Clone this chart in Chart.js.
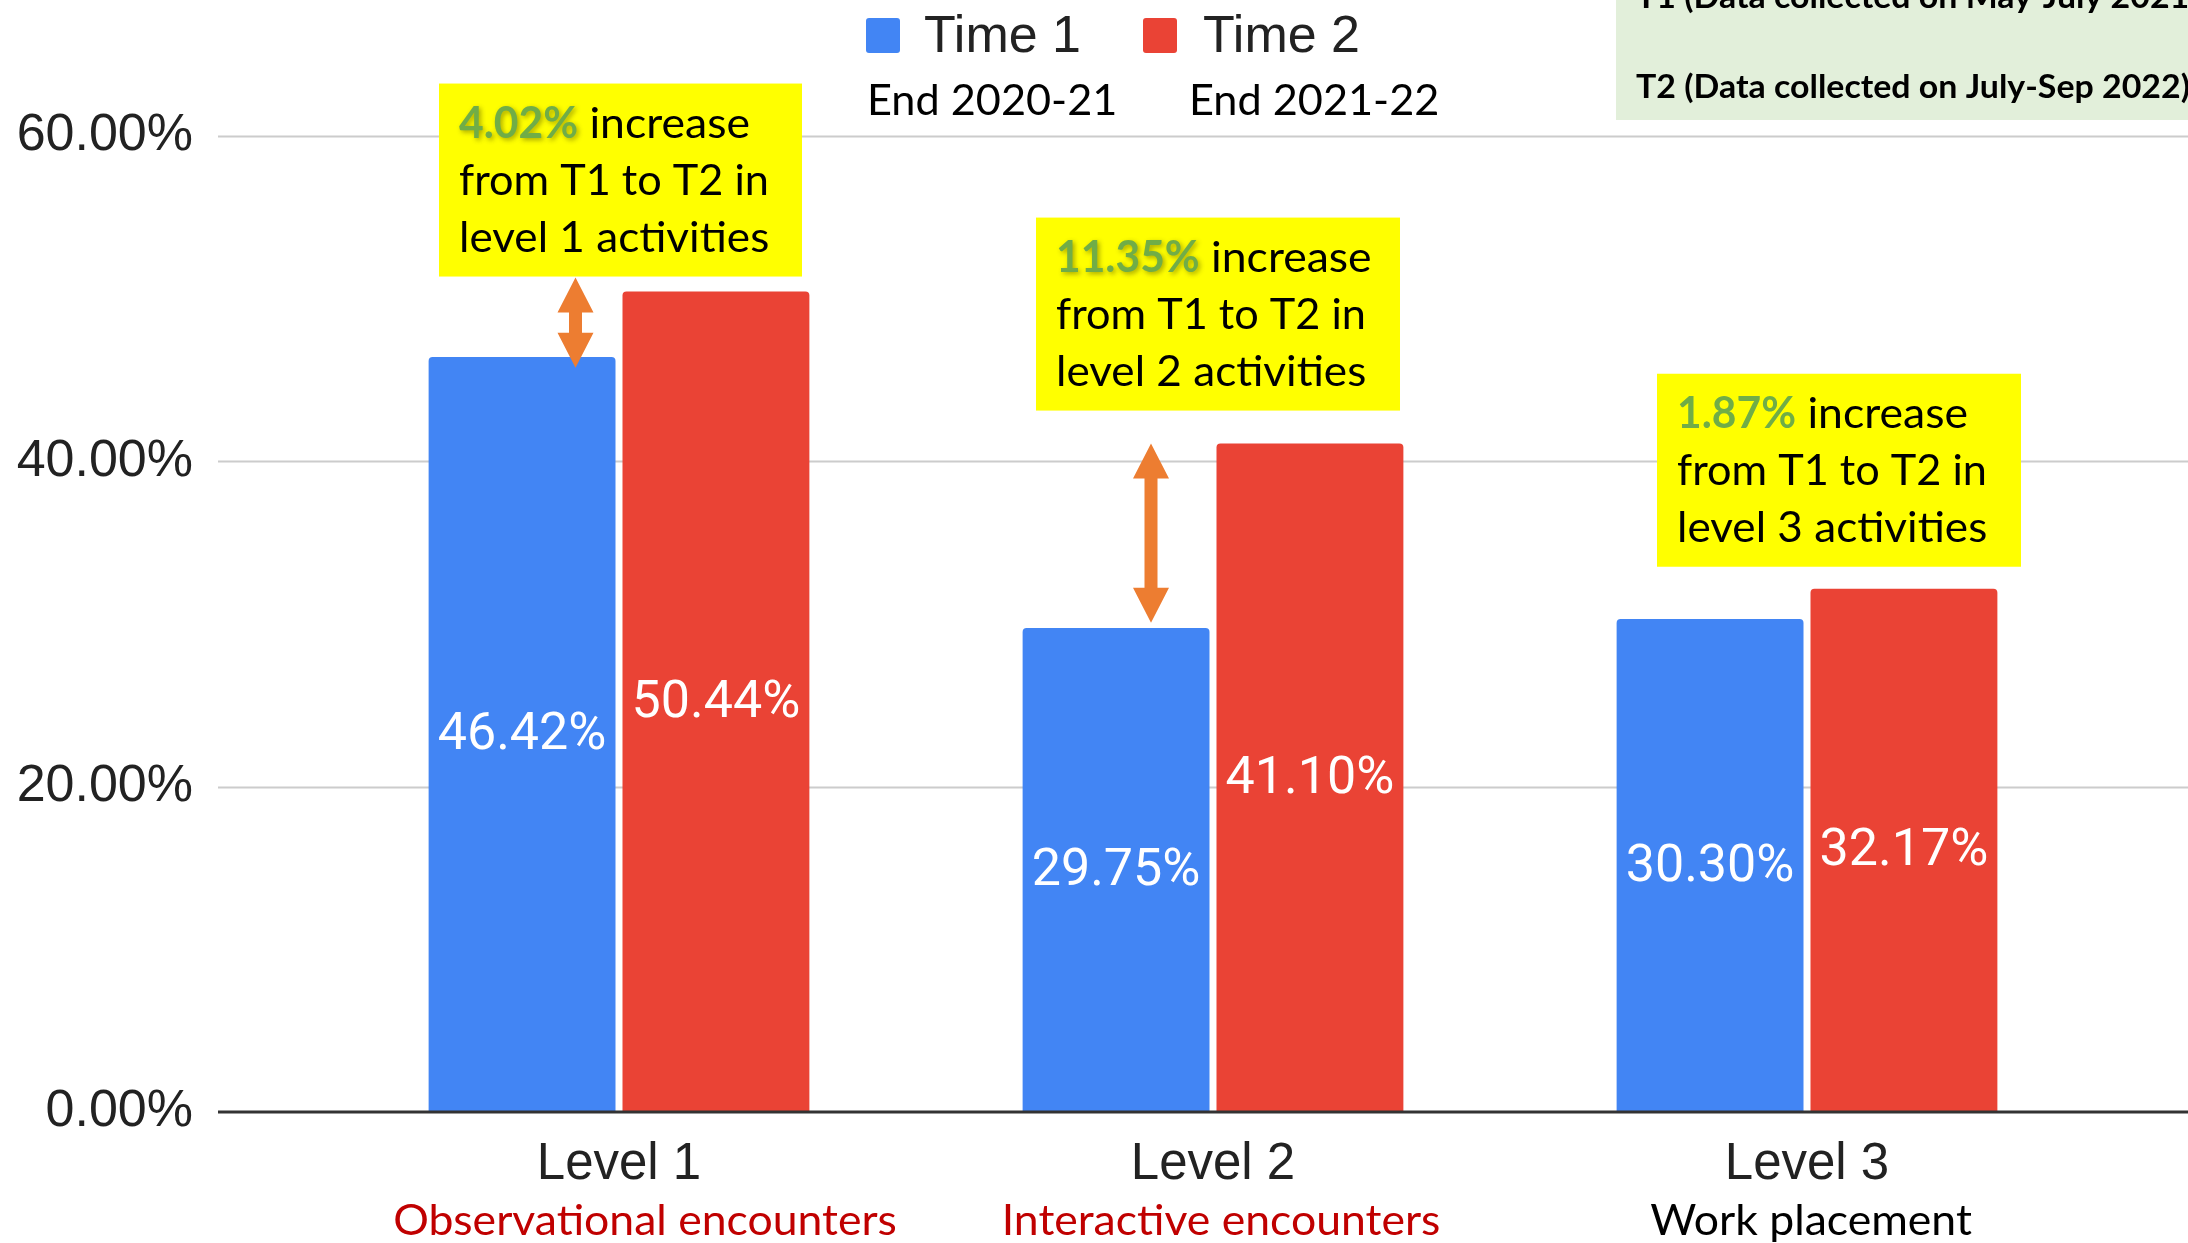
<!DOCTYPE html>
<html>
<head>
<meta charset="utf-8">
<title>Work-related learning activities: Time 1 vs Time 2</title>
<script src="https://cdn.jsdelivr.net/npm/chart.js@4.4.1/dist/chart.umd.min.js"></script>
<style>
  html, body { margin: 0; padding: 0; background: #ffffff; overflow: hidden; }
  canvas { display: block; }
</style>
</head>
<body>
<canvas id="chart" width="2188" height="1243"></canvas>
<script>
// ---- data ----
const levels = ['Level 1', 'Level 2', 'Level 3'];
const levelNames = ['Observational encounters', 'Interactive encounters', 'Work placement'];
const seriesNames = ['Time 1', 'Time 2'];
const seriesPeriods = ['End 2020-21', 'End 2021-22'];
const time1 = [46.42, 29.75, 30.30];
const time2 = [50.44, 41.10, 32.17];
const yTicks = [0, 20, 40, 60];
const collectionNotes = [
  'T1 (Data collected on May-July 2021)',
  'T2 (Data collected on July-Sep 2022)'
];

// ---- styling ----
const BLUE = '#4285F4';
const RED = '#EA4335';
const ORANGE = '#ED7D31';
const GREEN_TXT = '#70AD47';
const YELLOW = '#FFFF00';
const NOTE_BG = '#E2EFDA';
const ARIAL = '"Liberation Sans", Arial, sans-serif';
const ROBOTO = 'Roboto, "Liberation Sans", sans-serif';
const HUMAN = 'Lato, "Open Sans", sans-serif';

// plot frame (px)
const PLOT_TOP = 136;
const X_AXIS_HEIGHT = 131;
const Y_AXIS_WIDTH = 322;

// Callout boxes: horizontal offset from the category centre (px), bottom edge as a y value
const callouts = [
  { cat: 0, dx: -180, width: 363, height: 193, bottom: 51.36, shadow: true },
  { cat: 1, dx: -177, width: 364, height: 193, bottom: 43.12, shadow: true },
  { cat: 2, dx: -150, width: 364, height: 193, bottom: 33.52, shadow: false }
];
// Double-headed arrows between the two bars (y values of the two tips)
const arrows = [
  { cat: 0, dx: -43.5, from: 51.3, to: 45.76 },
  { cat: 1, dx: -62, from: 41.09, to: 30.08 }
];
const levelNameColors = ['#C00000', '#C00000', '#000000'];
const levelNameDx = [26, 8, 4];

// Condensed humanist text (narrow office-style face emulated with a horizontal scale)
let sxReg = 1, sxBold = 1;
function calibrate(ctx) {
  ctx.save();
  ctx.font = '43px ' + HUMAN;
  sxReg = 310 / ctx.measureText('from T1 to T2 in').width;
  ctx.font = 'bold 43px ' + HUMAN;
  sxBold = 119 / ctx.measureText('4.02%').width;
  ctx.restore();
}
function scaledText(ctx, text, x, y, font, sx, align) {
  ctx.save();
  ctx.font = font;
  const w = ctx.measureText(text).width * sx;
  let x0 = x;
  if (align === 'center') x0 = x - w / 2;
  else if (align === 'right') x0 = x - w;
  ctx.translate(x0, y);
  ctx.scale(sx, 1);
  ctx.textAlign = 'left';
  ctx.textBaseline = 'alphabetic';
  ctx.fillText(text, 0, 0);
  ctx.restore();
  return w;
}

function doubleArrow(ctx, x, yTop, yBot) {
  const headLen = 35, headHalf = 18, shaftHalf = 6.5;
  ctx.beginPath();
  ctx.moveTo(x, yTop);
  ctx.lineTo(x + headHalf, yTop + headLen);
  ctx.lineTo(x + shaftHalf, yTop + headLen);
  ctx.lineTo(x + shaftHalf, yBot - headLen);
  ctx.lineTo(x + headHalf, yBot - headLen);
  ctx.lineTo(x, yBot);
  ctx.lineTo(x - headHalf, yBot - headLen);
  ctx.lineTo(x - shaftHalf, yBot - headLen);
  ctx.lineTo(x - shaftHalf, yTop + headLen);
  ctx.lineTo(x - headHalf, yTop + headLen);
  ctx.closePath();
  ctx.fillStyle = ORANGE;
  ctx.fill();
}

// Horizontal grid lines spanning the full width (behind the bars)
const gridPlugin = {
  id: 'wideGrid',
  beforeDatasetsDraw(chart) {
    const { ctx, scales: { y } } = chart;
    ctx.save();
    ctx.strokeStyle = '#cccccc';
    ctx.lineWidth = 2;
    yTicks.forEach(v => {
      if (v === 0) return;
      const py = Math.round(y.getPixelForValue(v)) + 0.5;
      ctx.beginPath();
      ctx.moveTo(218, py);
      ctx.lineTo(chart.width, py);
      ctx.stroke();
    });
    ctx.restore();
  }
};

// Baseline, value labels, callouts, arrows, legend and notes
const overlayPlugin = {
  id: 'overlay',
  afterDatasetsDraw(chart) {
    const { ctx, scales: { x, y } } = chart;
    calibrate(ctx);
    ctx.save();

    // zero line
    ctx.strokeStyle = '#333333';
    ctx.lineWidth = 3;
    const y0 = y.getPixelForValue(0);
    ctx.beginPath();
    ctx.moveTo(218, y0);
    ctx.lineTo(chart.width, y0);
    ctx.stroke();

    // value labels centred in each bar
    ctx.fillStyle = '#ffffff';
    ctx.font = '52px ' + ROBOTO;
    ctx.textAlign = 'center';
    ctx.textBaseline = 'middle';
    chart.data.datasets.forEach((ds, di) => {
      chart.getDatasetMeta(di).data.forEach((bar, i) => {
        const v = ds.data[i];
        ctx.fillText(v.toFixed(2) + '%', bar.x, (bar.y + bar.base) / 2 + 2);
      });
    });

    // callout boxes
    callouts.forEach(c => {
      const cx = x.getPixelForValue(c.cat);
      const left = cx + c.dx;
      const bottom = y.getPixelForValue(c.bottom);
      const top = bottom - c.height;
      ctx.fillStyle = YELLOW;
      ctx.fillRect(left, top, c.width, c.height);

      const gain = (time2[c.cat] - time1[c.cat]).toFixed(2) + '%';
      const tx = left + 20;
      ctx.save();
      if (c.shadow) {
        ctx.shadowColor = 'rgba(60,60,0,0.45)';
        ctx.shadowBlur = 5;
        ctx.shadowOffsetX = 2;
        ctx.shadowOffsetY = 2;
      }
      ctx.fillStyle = GREEN_TXT;
      const gw = scaledText(ctx, gain, tx, top + 54, 'bold 43px ' + HUMAN, sxBold, 'left');
      ctx.restore();
      ctx.fillStyle = '#000000';
      scaledText(ctx, ' increase', tx + gw, top + 54, '43px ' + HUMAN, sxReg * 1.03, 'left');
      scaledText(ctx, 'from T1 to T2 in', tx, top + 111, '43px ' + HUMAN, sxReg, 'left');
      scaledText(ctx, 'level ' + (c.cat + 1) + ' activities', tx, top + 168, '43px ' + HUMAN, sxReg * 1.02, 'left');
    });

    // arrows
    arrows.forEach(a => {
      const ax = x.getPixelForValue(a.cat) + a.dx;
      doubleArrow(ctx, ax, y.getPixelForValue(a.from), y.getPixelForValue(a.to));
    });

    // category descriptions under the tick labels
    levelNames.forEach((name, i) => {
      ctx.fillStyle = levelNameColors[i];
      scaledText(ctx, name, x.getPixelForValue(i) + levelNameDx[i], 1235, '43px ' + HUMAN, sxReg * 1.03, 'center');
    });

    // legend
    const legendItems = [
      { box: 866, text: 924, period: 867 },
      { box: 1143, text: 1203, period: 1189 }
    ];
    chart.data.datasets.forEach((ds, di) => {
      const it = legendItems[di];
      ctx.fillStyle = ds.backgroundColor;
      ctx.beginPath();
      ctx.roundRect(it.box, 18, 34, 35, 3);
      ctx.fill();
      ctx.fillStyle = '#222222';
      ctx.font = '52px ' + ARIAL;
      ctx.textAlign = 'left';
      ctx.textBaseline = 'alphabetic';
      ctx.fillText(ds.label, it.text, 52);
      ctx.fillStyle = '#000000';
      scaledText(ctx, seriesPeriods[di], it.period, 115, '43px ' + HUMAN, sxReg, 'left');
    });

    // data-collection note (top right)
    ctx.fillStyle = NOTE_BG;
    ctx.fillRect(1616, 0, chart.width - 1616, 120);
    ctx.fillStyle = '#000000';
    ctx.font = 'bold 33px ' + HUMAN;
    const sxNote = 554 / ctx.measureText(collectionNotes[1]).width;
    scaledText(ctx, collectionNotes[0], 1636, 8, 'bold 33px ' + HUMAN, sxNote, 'left');
    scaledText(ctx, collectionNotes[1], 1636, 98, 'bold 33px ' + HUMAN, sxNote, 'left');

    ctx.restore();
  }
};

new Chart(document.getElementById('chart'), {
  type: 'bar',
  data: {
    labels: levels,
    datasets: [
      {
        label: seriesNames[0],
        data: time1,
        backgroundColor: BLUE,
        borderRadius: { topLeft: 4, topRight: 4 },
        borderSkipped: 'start',
        categoryPercentage: 0.6528,
        barPercentage: 0.9639
      },
      {
        label: seriesNames[1],
        data: time2,
        backgroundColor: RED,
        borderRadius: { topLeft: 4, topRight: 4 },
        borderSkipped: 'start',
        categoryPercentage: 0.6528,
        barPercentage: 0.9639
      }
    ]
  },
  options: {
    responsive: false,
    devicePixelRatio: 1,
    animation: false,
    layout: { padding: { top: PLOT_TOP, right: 84, bottom: 0, left: 0 } },
    plugins: {
      legend: { display: false },
      tooltip: { enabled: false },
      title: { display: false }
    },
    scales: {
      x: {
        grid: { display: false, drawTicks: false },
        border: { display: false },
        ticks: {
          color: '#222222',
          font: { family: ARIAL, size: 51 },
          padding: 22,
          maxRotation: 0,
          autoSkip: false
        },
        afterFit(scale) { scale.height = X_AXIS_HEIGHT; }
      },
      y: {
        min: 0,
        max: 60,
        afterBuildTicks(scale) { scale.ticks = yTicks.map(v => ({ value: v })); },
        grid: { display: false, drawTicks: false },
        border: { display: false },
        ticks: {
          color: '#222222',
          font: { family: ARIAL, size: 52 },
          padding: 129,
          callback: v => v.toFixed(2) + '%'
        },
        afterFit(scale) {
          // the wide label gap must not reserve extra room above/below the plot
          scale.width = Y_AXIS_WIDTH;
          scale.paddingTop = 30;
          scale.paddingBottom = 30;
        }
      }
    }
  },
  plugins: [gridPlugin, overlayPlugin]
});
</script>
</body>
</html>
